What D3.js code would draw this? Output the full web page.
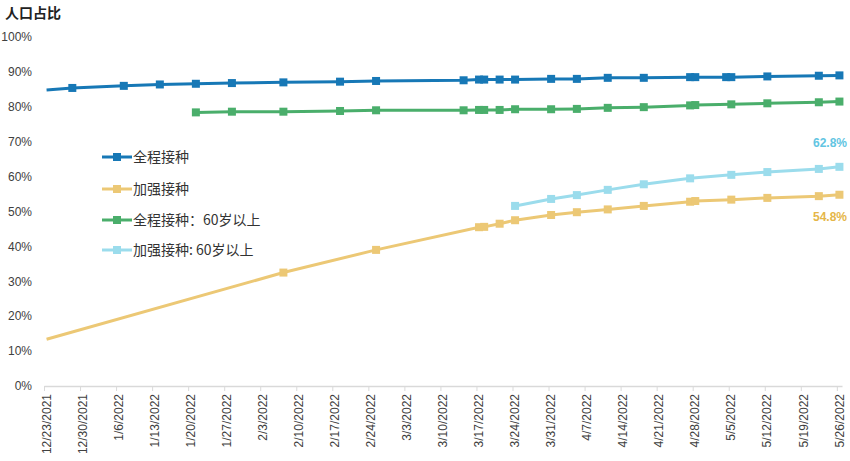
<!DOCTYPE html>
<html>
<head>
<meta charset="utf-8">
<script src="https://cdn.jsdelivr.net/npm/d3@7"></script>
<style>
  body { margin: 0; background: #fff; }
  text { font-family: "Liberation Sans", Arial, "Noto Sans CJK SC", sans-serif; }
</style>
</head>
<body>
<div id="chart"></div>
<script>
// dates shared by all series (m/d/yyyy)
const dates = ["12/23/2021", "12/28/2021", "1/7/2022", "1/14/2022", "1/21/2022", "1/28/2022", "2/7/2022",
  "2/18/2022", "2/25/2022", "3/14/2022", "3/17/2022", "3/18/2022", "3/21/2022", "3/24/2022", "3/31/2022",
  "4/5/2022", "4/11/2022", "4/18/2022", "4/27/2022", "4/28/2022", "5/4/2022", "5/5/2022", "5/12/2022",
  "5/22/2022", "5/26/2022"]

// percentages, null = no value for that date
const fullAll = [84.8, 85.4, 86.0, 86.4, 86.6, 86.8, 87.0, 87.2, 87.4, 87.6, 87.8, 87.8, 87.8, 87.8, 88.0,
  88.0, 88.3, 88.3, 88.5, 88.5, 88.5, 88.5, 88.7, 88.9, 89.0]
const boosterAll = [13.4, null, null, null, null, null, 32.5, null, 39.0, null, 45.5, 45.6, 46.5, 47.5, 49.0,
  49.8, 50.6, 51.6, 52.8, 53.0, null, 53.4, 53.9, 54.4, 54.8]
const full60 = [null, null, null, null, 78.4, 78.6, 78.6, 78.8, 79.0, 79.0, 79.1, 79.1, 79.1, 79.3, 79.3,
  79.4, 79.7, 79.9, 80.4, 80.5, null, 80.7, 81.0, 81.3, 81.5]
const booster60 = [null, null, null, null, null, null, null, null, null, null, null, null, null, 51.6, 53.6,
  54.7, 56.2, 57.8, 59.5, null, null, 60.5, 61.3, 62.2, 62.8]

const seriesNames = ["全程接种", "加强接种", "全程接种：60岁以上", "加强接种: 60岁以上"]
const seriesColors = ["#1778b6", "#ecc875", "#4aae6b", "#9bdcec"]
const yTicks = [0, 10, 20, 30, 40, 50, 60, 70, 80, 90, 100]
const xTickStart = "12/23/2021", xTickEnd = "5/26/2022"

const W = 850, H = 461
const margin = {top: 37, right: 8, bottom: 75, left: 44}
const width = W - margin.left - margin.right
const height = H - margin.top - margin.bottom

const parse = d3.timeParse("%m/%d/%Y")
const fmt = d => (d.getMonth() + 1) + "/" + d.getDate() + "/" + d.getFullYear()

let svg = d3.select("#chart").append("svg")
  .attr("width", W).attr("height", H)
let g = svg.append("g").attr("transform", "translate(" + margin.left + "," + margin.top + ")")

// each day is a slot, points sit in the middle of it
let start = parse(xTickStart)
let end = d3.timeDay.offset(parse(xTickEnd), 1)
let xScale = d3.scaleTime().domain([start, end]).range([0, width])
let yScale = d3.scaleLinear().domain([0, 100]).range([height, 0])
const xPos = d => xScale(d3.timeHour.offset(d, 12))

// y labels, no axis line
g.append("g").selectAll("text").data(yTicks).enter().append("text")
  .attr("x", -12).attr("y", d => yScale(d)).attr("dy", "0.35em")
  .attr("text-anchor", "end").attr("font-size", 12).attr("fill", "#404040")
  .text(d => d + "%")

// x axis
let weekTicks = d3.timeDay.range(start, d3.timeDay.offset(parse(xTickEnd), 1), 7)
let xAxis = d3.axisBottom(xScale).tickValues(weekTicks).tickFormat(fmt).tickSize(5).tickSizeOuter(0)
let xg = g.append("g").attr("transform", "translate(0," + height + ")").call(xAxis)
xg.select(".domain").attr("stroke", "#d9d9d9").attr("stroke-width", 1.5)
xg.selectAll(".tick line").attr("stroke", "#d9d9d9")
xg.selectAll(".tick text")
  .attr("transform", "rotate(-90)")
  .attr("x", -8).attr("y", 2).attr("dy", "0.35em")
  .attr("text-anchor", "end").attr("font-size", 12).attr("fill", "#404040")

// series
let allSeries = [fullAll, boosterAll, full60, booster60]
let lineGen = d3.line().x(d => xPos(d.date)).y(d => yScale(d.value))
let drawOrder = [1, 3, 2, 0]
drawOrder.forEach(function(i) {
  let pts = dates.map((d, k) => ({date: parse(d), value: allSeries[i][k]})).filter(p => p.value !== null)
  g.append("path").datum(pts).attr("d", lineGen)
    .attr("fill", "none").attr("stroke", seriesColors[i]).attr("stroke-width", 3)
  // no marker on the point sitting at the axis start
  g.append("g").selectAll("rect").data(pts.filter(p => p.date > start)).enter().append("rect")
    .attr("x", p => xPos(p.date) - 4).attr("y", p => yScale(p.value) - 4)
    .attr("width", 8).attr("height", 8).attr("fill", seriesColors[i])
})

// end labels
g.append("text").attr("x", width + 5).attr("y", yScale(booster60[booster60.length - 1]) - 20)
  .attr("text-anchor", "end").attr("font-size", 12).attr("font-weight", "bold").attr("fill", "#62c5e2")
  .text(booster60[booster60.length - 1].toFixed(1) + "%")
g.append("text").attr("x", width + 5).attr("y", yScale(boosterAll[boosterAll.length - 1]) + 26)
  .attr("text-anchor", "end").attr("font-size", 12).attr("font-weight", "bold").attr("fill", "#e5b648")
  .text(boosterAll[boosterAll.length - 1].toFixed(1) + "%")

// legend
let legendY = [157, 189, 220, 250]
let legend = svg.append("g")
seriesNames.forEach(function(name, i) {
  let row = legend.append("g").attr("transform", "translate(102," + legendY[i] + ")")
  row.append("line").attr("x1", 0).attr("x2", 30).attr("stroke", seriesColors[i]).attr("stroke-width", 3)
  row.append("rect").attr("x", 11).attr("y", -4).attr("width", 8).attr("height", 8).attr("fill", seriesColors[i])
  row.append("text").attr("x", 31).attr("dy", "0.35em").attr("font-size", 14).attr("fill", "#333")
    .style("font-family", "'Noto Sans CJK SC', sans-serif").text(name)
})

// y title
svg.append("text").attr("x", 5).attr("y", 18).attr("font-size", 14).attr("font-weight", "bold")
  .attr("fill", "#222").style("font-family", "'Noto Sans CJK SC', sans-serif").text("人口占比")
</script>
</body>
</html>
